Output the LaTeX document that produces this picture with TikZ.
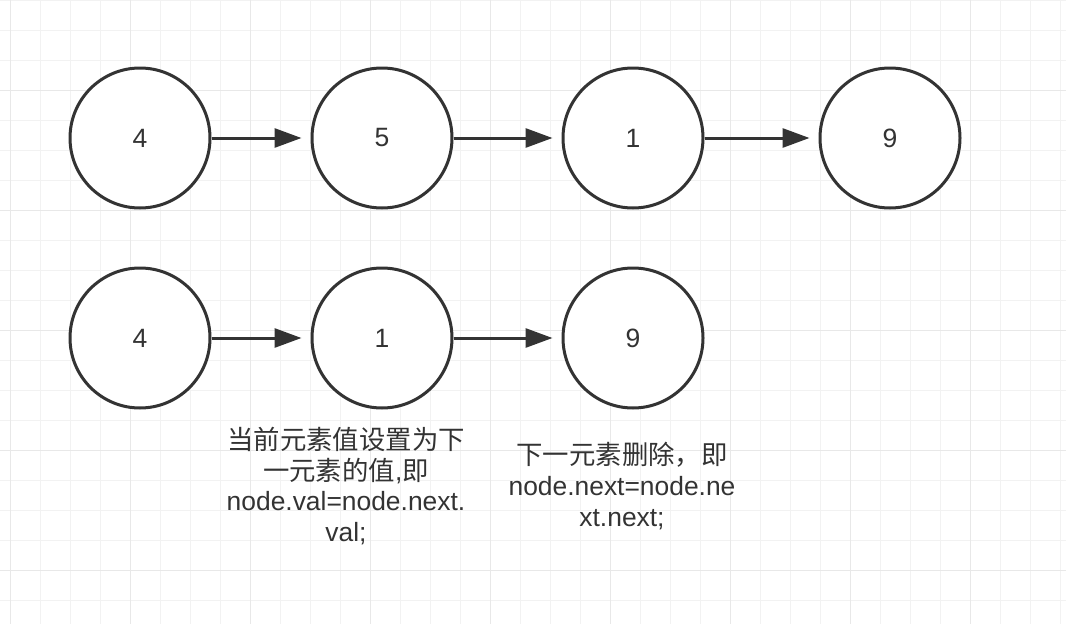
\documentclass[tikz,border=0pt]{standalone}
\usepackage{fontspec}
\setmainfont{Liberation Sans}
\newfontfamily\cjk{Noto Sans CJK SC}
\usetikzlibrary{arrows.meta}
\definecolor{inkgray}{HTML}{333333}
\definecolor{gridminor}{HTML}{F2F2F2}
\definecolor{gridmajor}{HTML}{E8E8E8}

\begin{document}
\begin{tikzpicture}[
  x = 1pt, y = -1pt,
  elem/.style = {draw = inkgray, circle, line width = 3pt, fill = white,
                 minimum size = 140pt, inner sep = 0pt,
                 text = inkgray, font = \fontsize{26.5}{30}\selectfont},
  link/.style = {draw = inkgray, line width = 3pt, shorten > = 9pt,
                 -{Triangle[length = 27pt, width = 19pt]}},
  note/.style = {align = center, text = inkgray, inner sep = 0pt,
                 font = \fontsize{26.4}{30.8}\selectfont},
  ]
  \useasboundingbox (0,0) rectangle (1066,624);
  \fill[white] (0,0) rectangle (1066,624);
  % grid paper
  \foreach \gx in {10.7,40.7,...,1066}
    \draw[gridminor, line width = 1.2pt] (\gx,0) -- (\gx,624);
  \foreach \gy in {0.7,30.7,...,624}
    \draw[gridminor, line width = 1.2pt] (0,\gy) -- (1066,\gy);
  \foreach \gx in {10.7,130.7,...,1066}
    \draw[gridmajor, line width = 1.2pt] (\gx,0) -- (\gx,624);
  \foreach \gy in {90.7,210.7,...,624}
    \draw[gridmajor, line width = 1.2pt] (0,\gy) -- (1066,\gy);

  % list before
  \node[elem] (a4) at (140,138) {4};
  \node[elem] (a5) at (382,138) {5};
  \node[elem] (a1) at (633,138) {1};
  \node[elem] (a9) at (890,138) {9};
  \draw[link] (a4) -- (a5);
  \draw[link] (a5) -- (a1);
  \draw[link] (a1) -- (a9);

  % list after
  \node[elem] (b4) at (140,338) {4};
  \node[elem] (b1) at (382,338) {1};
  \node[elem] (b9) at (633,338) {9};
  \draw[link] (b4) -- (b1);
  \draw[link] (b1) -- (b9);

  % notes
  \node[note] (copyval) at (346,486)
    {{\cjk 当前元素值设置为下}\\{\cjk 一元素的值},{\cjk 即}\\node.val=node.next.\\val;};
  \node[note] (dropnext) at (622,486)
    {{\cjk 下一元素删除，即}\\node.next=node.ne\\xt.next;};
\end{tikzpicture}
\end{document}
